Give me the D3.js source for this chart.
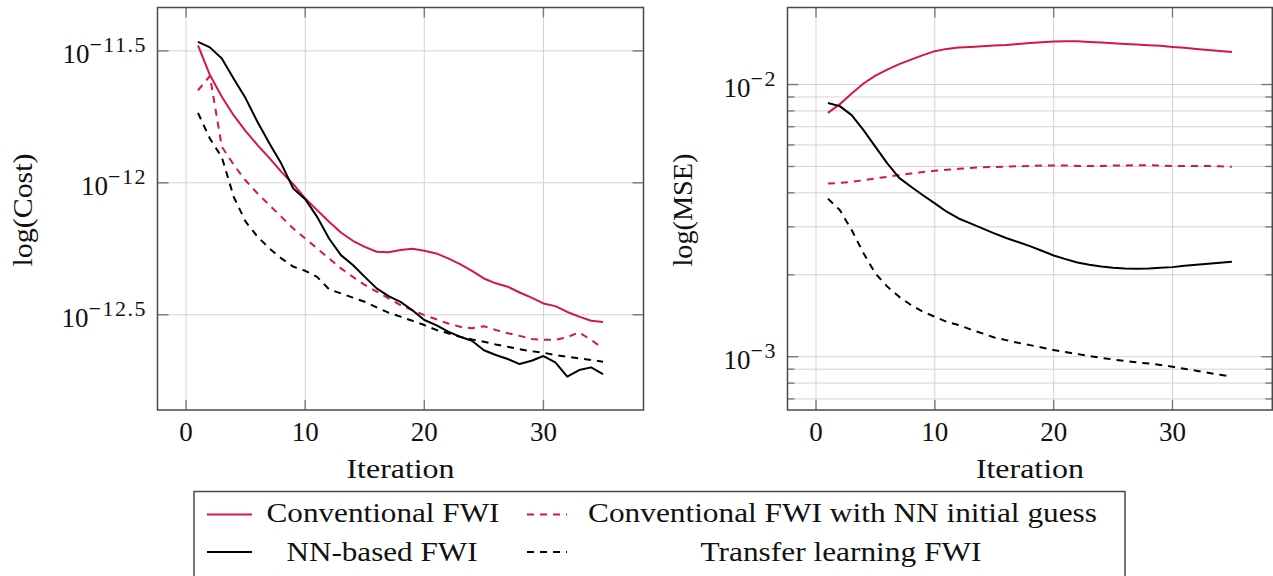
<!DOCTYPE html>
<html>
<head>
<meta charset="utf-8">
<script src="https://cdn.jsdelivr.net/npm/d3@7"></script>
<style>
  html, body { margin: 0; padding: 0; background: #fff; }
  svg { display: block; }
  text { font-family: "Liberation Serif", "DejaVu Serif", serif; fill: #111; }
</style>
</head>
<body>
<svg id="chart" width="1273" height="576"></svg>
<script>
// Iterations shared by every series
const iterations = d3.range(1, 36);

// Cost per iteration (left panel)
const costConventional = [3.32e-12, 2.56e-12, 2.12e-12, 1.80e-12, 1.57e-12, 1.39e-12, 1.24e-12, 1.10e-12, 0.988e-12, 0.872e-12,
  0.788e-12, 0.712e-12, 0.648e-12, 0.603e-12, 0.572e-12, 0.548e-12, 0.546e-12, 0.556e-12, 0.562e-12, 0.553e-12,
  0.540e-12, 0.517e-12, 0.492e-12, 0.464e-12, 0.434e-12, 0.416e-12, 0.404e-12, 0.384e-12, 0.367e-12, 0.349e-12,
  0.341e-12, 0.324e-12, 0.311e-12, 0.300e-12, 0.297e-12];
const costNNInit = [2.24e-12, 2.54e-12, 1.37e-12, 1.17e-12, 1.02e-12, 0.911e-12, 0.823e-12, 0.743e-12, 0.671e-12, 0.615e-12,
  0.564e-12, 0.517e-12, 0.474e-12, 0.440e-12, 0.410e-12, 0.387e-12, 0.365e-12, 0.344e-12, 0.329e-12, 0.315e-12,
  0.304e-12, 0.293e-12, 0.285e-12, 0.281e-12, 0.286e-12, 0.277e-12, 0.269e-12, 0.263e-12, 0.256e-12, 0.254e-12,
  0.254e-12, 0.260e-12, 0.271e-12, 0.254e-12, 0.236e-12];
const costNNBased = [3.42e-12, 3.26e-12, 2.96e-12, 2.48e-12, 2.09e-12, 1.70e-12, 1.41e-12, 1.18e-12, 0.952e-12, 0.867e-12,
  0.743e-12, 0.615e-12, 0.532e-12, 0.488e-12, 0.440e-12, 0.398e-12, 0.372e-12, 0.354e-12, 0.329e-12, 0.302e-12,
  0.289e-12, 0.273e-12, 0.261e-12, 0.252e-12, 0.232e-12, 0.2225e-12, 0.215e-12, 0.2056e-12, 0.2117e-12, 0.2206e-12,
  0.2087e-12, 0.1842e-12, 0.1952e-12, 0.1998e-12, 0.1885e-12];
const costTransfer = [1.84e-12, 1.47e-12, 1.25e-12, 0.885e-12, 0.712e-12, 0.625e-12, 0.564e-12, 0.517e-12, 0.481e-12, 0.464e-12,
  0.440e-12, 0.395e-12, 0.381e-12, 0.367e-12, 0.354e-12, 0.337e-12, 0.322e-12, 0.311e-12, 0.300e-12, 0.289e-12,
  0.277e-12, 0.269e-12, 0.261e-12, 0.255e-12, 0.250e-12, 0.244e-12, 0.239e-12, 0.234e-12, 0.230e-12, 0.227e-12,
  0.2225e-12, 0.2192e-12, 0.2161e-12, 0.213e-12, 0.2099e-12];

// Model MSE per iteration (right panel)
const mseConventional = [7.87e-3, 8.47e-3, 9.27e-3, 10.09e-3, 10.79e-3, 11.35e-3, 11.88e-3, 12.35e-3, 12.82e-3, 13.26e-3,
  13.52e-3, 13.67e-3, 13.75e-3, 13.83e-3, 13.91e-3, 13.98e-3, 14.10e-3, 14.22e-3, 14.30e-3, 14.38e-3,
  14.42e-3, 14.42e-3, 14.34e-3, 14.26e-3, 14.18e-3, 14.10e-3, 14.02e-3, 13.94e-3, 13.87e-3, 13.75e-3,
  13.64e-3, 13.52e-3, 13.40e-3, 13.29e-3, 13.18e-3];
const mseNNInit = [4.33e-3, 4.35e-3, 4.39e-3, 4.45e-3, 4.52e-3, 4.58e-3, 4.65e-3, 4.71e-3, 4.77e-3, 4.82e-3,
  4.86e-3, 4.90e-3, 4.94e-3, 4.97e-3, 4.98e-3, 4.99e-3, 5.01e-3, 5.02e-3, 5.04e-3, 5.04e-3,
  5.04e-3, 5.02e-3, 5.02e-3, 5.02e-3, 5.04e-3, 5.04e-3, 5.05e-3, 5.05e-3, 5.04e-3, 5.02e-3,
  5.02e-3, 5.02e-3, 5.02e-3, 5.01e-3, 4.99e-3];
const mseNNBased = [8.56e-3, 8.33e-3, 7.72e-3, 6.80e-3, 5.90e-3, 5.13e-3, 4.54e-3, 4.21e-3, 3.92e-3, 3.66e-3,
  3.41e-3, 3.22e-3, 3.09e-3, 2.96e-3, 2.84e-3, 2.73e-3, 2.64e-3, 2.55e-3, 2.45e-3, 2.355e-3,
  2.284e-3, 2.220e-3, 2.177e-3, 2.146e-3, 2.122e-3, 2.110e-3, 2.104e-3, 2.110e-3, 2.122e-3, 2.134e-3,
  2.158e-3, 2.177e-3, 2.195e-3, 2.214e-3, 2.233e-3];
const mseTransfer = [3.81e-3, 3.46e-3, 2.92e-3, 2.40e-3, 2.02e-3, 1.81e-3, 1.66e-3, 1.548e-3, 1.463e-3, 1.402e-3,
  1.344e-3, 1.307e-3, 1.260e-3, 1.218e-3, 1.177e-3, 1.151e-3, 1.125e-3, 1.103e-3, 1.082e-3, 1.058e-3,
  1.040e-3, 1.023e-3, 1.005e-3, 0.991e-3, 0.977e-3, 0.964e-3, 0.953e-3, 0.945e-3, 0.932e-3, 0.919e-3,
  0.903e-3, 0.888e-3, 0.873e-3, 0.859e-3, 0.844e-3];

// Tick values and labels
const xTicks = [0, 10, 20, 30];
const costTickExps = ["−12.5", "−12", "−11.5"];
const costTicks = [-12.5, -12, -11.5].map(e => Math.pow(10, e));
const mseTickExps = ["−3", "−2"];
const mseTicks = [1e-3, 1e-2];
const mseMinorTicks = [7e-4, 8e-4, 9e-4, 2e-3, 3e-3, 4e-3, 5e-3, 6e-3, 7e-3, 8e-3, 9e-3];

const seriesNames = ["Conventional FWI", "Conventional FWI with NN initial guess", "NN-based FWI", "Transfer learning FWI"];
const RED = "#d6173f";
const BLACK = "#000";
const DASH = "7,6";

const svg = d3.select("#chart");
const plotTop = 7.5, plotBottom = 410;

function panel(opts) {
  const g = svg.append("g");
  const x = d3.scaleLinear().domain([-2.4, 38.4]).range([opts.x0, opts.x1]);
  const y = d3.scaleLog().domain(opts.yDomain).range([plotBottom, plotTop]);

  // grid
  const grid = g.append("g").attr("stroke", "#d4d4d4").attr("stroke-width", 1);
  xTicks.forEach(t => grid.append("line").attr("x1", x(t)).attr("x2", x(t)).attr("y1", plotTop).attr("y2", plotBottom));
  opts.yTicks.concat(opts.yMinor || []).forEach(t =>
    grid.append("line").attr("x1", opts.x0).attr("x2", opts.x1).attr("y1", y(t)).attr("y2", y(t)));

  // tick marks on all four sides, pointing inwards
  const tk = g.append("g").attr("stroke", "#7a7a7a").attr("stroke-width", 1.4);
  xTicks.forEach(t => {
    tk.append("line").attr("x1", x(t)).attr("x2", x(t)).attr("y1", plotBottom).attr("y2", plotBottom - 10);
    tk.append("line").attr("x1", x(t)).attr("x2", x(t)).attr("y1", plotTop).attr("y2", plotTop + 10);
  });
  opts.yTicks.forEach(t => {
    tk.append("line").attr("x1", opts.x0).attr("x2", opts.x0 + 11).attr("y1", y(t)).attr("y2", y(t));
    tk.append("line").attr("x1", opts.x1).attr("x2", opts.x1 - 11).attr("y1", y(t)).attr("y2", y(t));
  });
  (opts.yMinor || []).forEach(t => {
    tk.append("line").attr("x1", opts.x0).attr("x2", opts.x0 + 7).attr("y1", y(t)).attr("y2", y(t));
    tk.append("line").attr("x1", opts.x1).attr("x2", opts.x1 - 7).attr("y1", y(t)).attr("y2", y(t));
  });

  // series
  const line = d3.line().x((d, i) => x(iterations[i])).y(d => y(d));
  opts.series.forEach(s => {
    g.append("path").datum(s.values)
      .attr("d", line)
      .attr("fill", "none")
      .attr("stroke", s.color)
      .attr("stroke-width", 2)
      .attr("stroke-linejoin", "round")
      .attr("stroke-dasharray", s.dashed ? DASH : null);
  });

  // frame
  g.append("rect").attr("x", opts.x0).attr("y", plotTop)
    .attr("width", opts.x1 - opts.x0).attr("height", plotBottom - plotTop)
    .attr("fill", "none").attr("stroke", "#4a4a4a").attr("stroke-width", 1.5);

  // x tick labels
  xTicks.forEach(t => g.append("text")
    .attr("x", x(t)).attr("y", 440.5).attr("text-anchor", "middle")
    .style("font-size", "27px").text(t));

  // y tick labels as powers of ten
  opts.yTicks.forEach((t, i) => {
    const tx = g.append("text").attr("x", opts.x0 - 10.5).attr("y", y(t) + 12.5)
      .attr("text-anchor", "end").style("font-size", "27px");
    tx.append("tspan").text("10");
    tx.append("tspan").attr("dy", -11).style("font-size", "22px")
      .style("letter-spacing", "1.5px").text(opts.tickExps[i]);
  });

  // axis titles
  g.append("text").attr("x", (opts.x0 + opts.x1) / 2).attr("y", 478)
    .attr("text-anchor", "middle").style("font-size", "28px")
    .attr("textLength", 108).attr("lengthAdjust", "spacingAndGlyphs")
    .text("Iteration");
  g.append("text")
    .attr("transform", `translate(${opts.titleX},210) rotate(-90)`)
    .attr("text-anchor", "middle").style("font-size", "28px")
    .attr("textLength", 113).attr("lengthAdjust", "spacingAndGlyphs")
    .text(opts.yTitle);
}

panel({
  x0: 157.5, x1: 643.5,
  yDomain: [Math.pow(10, -12.861), Math.pow(10, -11.3356)],
  yTicks: costTicks, tickExps: costTickExps,
  yTitle: "log(Cost)", titleX: 32,
  series: [
    { values: costConventional, color: RED, dashed: false },
    { values: costNNInit, color: RED, dashed: true },
    { values: costNNBased, color: BLACK, dashed: false },
    { values: costTransfer, color: BLACK, dashed: true }
  ]
});

panel({
  x0: 787.5, x1: 1272.3,
  yDomain: [Math.pow(10, -3.1957), Math.pow(10, -1.717)],
  yTicks: mseTicks, yMinor: mseMinorTicks, tickExps: mseTickExps,
  yTitle: "log(MSE)", titleX: 692,
  series: [
    { values: mseConventional, color: RED, dashed: false },
    { values: mseNNInit, color: RED, dashed: true },
    { values: mseNNBased, color: BLACK, dashed: false },
    { values: mseTransfer, color: BLACK, dashed: true }
  ]
});

// legend
const lg = svg.append("g");
lg.append("rect").attr("x", 194).attr("y", 491.5).attr("width", 931).attr("height", 120)
  .attr("fill", "#fff").attr("stroke", "#4a4a4a").attr("stroke-width", 1.5);
const legendItems = [
  { name: seriesNames[0], color: RED, dashed: false, lx: 207, tx: 383, ty: 522, ly: 514.5, w: 233 },
  { name: seriesNames[1], color: RED, dashed: true, lx: 527, tx: 842.5, ty: 522, ly: 514.5, w: 509 },
  { name: seriesNames[2], color: BLACK, dashed: false, lx: 207, tx: 382, ty: 560.5, ly: 552, w: 191 },
  { name: seriesNames[3], color: BLACK, dashed: true, lx: 527, tx: 841, ty: 560.5, ly: 552, w: 281 }
];
legendItems.forEach(it => {
  lg.append("line").attr("x1", it.lx).attr("x2", it.lx + (it.dashed ? 40 : 45))
    .attr("y1", it.ly).attr("y2", it.ly)
    .attr("stroke", it.color).attr("stroke-width", 2)
    .attr("stroke-dasharray", it.dashed ? DASH : null);
  lg.append("text").attr("x", it.tx).attr("y", it.ty).attr("text-anchor", "middle")
    .style("font-size", "28px")
    .attr("textLength", it.w).attr("lengthAdjust", "spacingAndGlyphs")
    .text(it.name);
});
</script>
</body>
</html>
